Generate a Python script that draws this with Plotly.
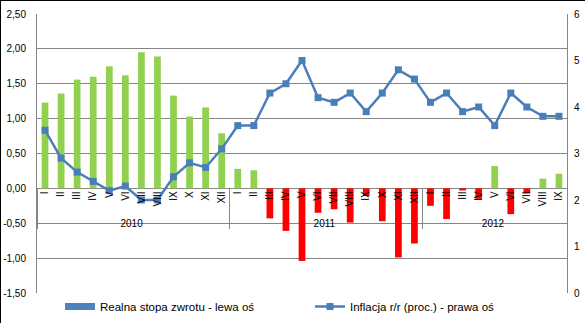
import plotly.graph_objects as go

years = ["2010"] * 12 + ["2011"] * 12 + ["2012"] * 9
months = ["I", "II", "III", "IV", "V", "VI", "VII", "VIII", "IX", "X", "XI", "XII"] * 2 + \
         ["I", "II", "III", "IV", "V", "VI", "VII", "VIII", "IX"]

real_rate = [1.23, 1.36, 1.56, 1.60, 1.75, 1.62, 1.95, 1.89, 1.33, 1.03, 1.16, 0.79,
             0.28, 0.26, -0.43, -0.61, -1.04, -0.35, -0.30, -0.49, -0.11, -0.47, -0.99, -0.79,
             -0.25, -0.44, -0.03, -0.15, 0.32, -0.37, -0.07, 0.14, 0.21]
inflation = [3.5, 2.9, 2.6, 2.4, 2.2, 2.3, 2.0, 2.0, 2.5, 2.8, 2.7, 3.1,
             3.6, 3.6, 4.3, 4.5, 5.0, 4.2, 4.1, 4.3, 3.9, 4.3, 4.8, 4.6,
             4.1, 4.3, 3.9, 4.0, 3.6, 4.3, 4.0, 3.8, 3.8]

left_ticks = [2.5, 2.0, 1.5, 1.0, 0.5, 0.0, -0.5, -1.0, -1.5]
left_labels = ["2,50", "2,00", "1,50", "1,00", "0,50", "0,00", "-0,50", "-1,00", "-1,50"]
right_ticks = [0, 1, 2, 3, 4, 5, 6]
right_labels = ["0", "1", "2", "3", "4", "5", "6"]

name_bar = "Realna stopa zwrotu - lewa oś"
name_line = "Inflacja r/r (proc.) - prawa oś"

GREEN = "#92D050"
RED = "#FF0000"
BLUE_BAR = "#4F81BD"
BLUE_LINE = "#4A7EBB"
GRID = "#868686"
FONT = "Liberation Sans"

bar_colors = [GREEN if v >= 0 else RED for v in real_rate]
x = [years, months]

fig = go.Figure()
fig.add_trace(go.Bar(x=x, y=real_rate, marker=dict(color=bar_colors, line=dict(width=0)),
                     width=0.42, showlegend=False, name=name_bar))
# legend entry for the bar series (blue swatch, as in the original)
fig.add_trace(go.Scatter(x=[[years[0]], [months[0]]], y=[None], mode="lines",
                         line=dict(color=BLUE_BAR, width=7), name=name_bar))
fig.add_trace(go.Scatter(x=x, y=inflation, yaxis="y2", mode="lines+markers",
                         line=dict(color=BLUE_LINE, width=2.5),
                         marker=dict(symbol="square", size=7, color=BLUE_LINE),
                         name=name_line))

fig.update_layout(
    width=585, height=323,
    margin=dict(l=37, r=18, t=14, b=30, autoexpand=False),
    paper_bgcolor="white", plot_bgcolor="white",
    font=dict(family=FONT, size=10, color="black"),
    barmode="overlay",
    showlegend=True,
    legend=dict(orientation="h", xref="container", yref="container",
                x=60/585, xanchor="left", y=(323 - 292)/323, yanchor="top",
                font=dict(size=11.5, family=FONT), entrywidth=205,
                bgcolor="rgba(0,0,0,0)"),
    xaxis=dict(type="multicategory", anchor="free", position=0.375, automargin=False,
               showgrid=False, zeroline=False, showline=False,
               tickangle=-90, ticks="", showdividers=True,
               dividercolor=GRID, dividerwidth=1,
               tickfont=dict(size=10, family=FONT, color="black"),
               range=[-0.5, 32.5]),
    yaxis=dict(range=[-1.5, 2.5], tickvals=left_ticks, ticktext=left_labels, automargin=False,
               showgrid=True, gridcolor=GRID, gridwidth=1,
               zeroline=True, zerolinecolor=GRID, zerolinewidth=1,
               showline=True, linecolor=GRID, linewidth=1,
               ticks="", ticklabelstandoff=8,
               tickfont=dict(size=10, family=FONT, color="black")),
    yaxis2=dict(range=[0, 6], overlaying="y", side="right", tickvals=right_ticks, automargin=False,
                ticktext=right_labels, showgrid=False, zeroline=False,
                showline=True, linecolor=GRID, linewidth=1,
                ticks="", ticklabelstandoff=4,
                tickfont=dict(size=10, family=FONT, color="black")),
    shapes=[
        dict(type="line", xref="paper", yref="paper", x0=-37/530, x1=548/530,
             y0=1 + 13.5/279, y1=1 + 13.5/279, line=dict(color="black", width=1)),
        dict(type="line", xref="paper", yref="paper", x0=-36.5/530, x1=-36.5/530,
             y0=-30/279, y1=1 + 14/279, line=dict(color="black", width=1)),
    ],
)

fig.write_html("out.html")
